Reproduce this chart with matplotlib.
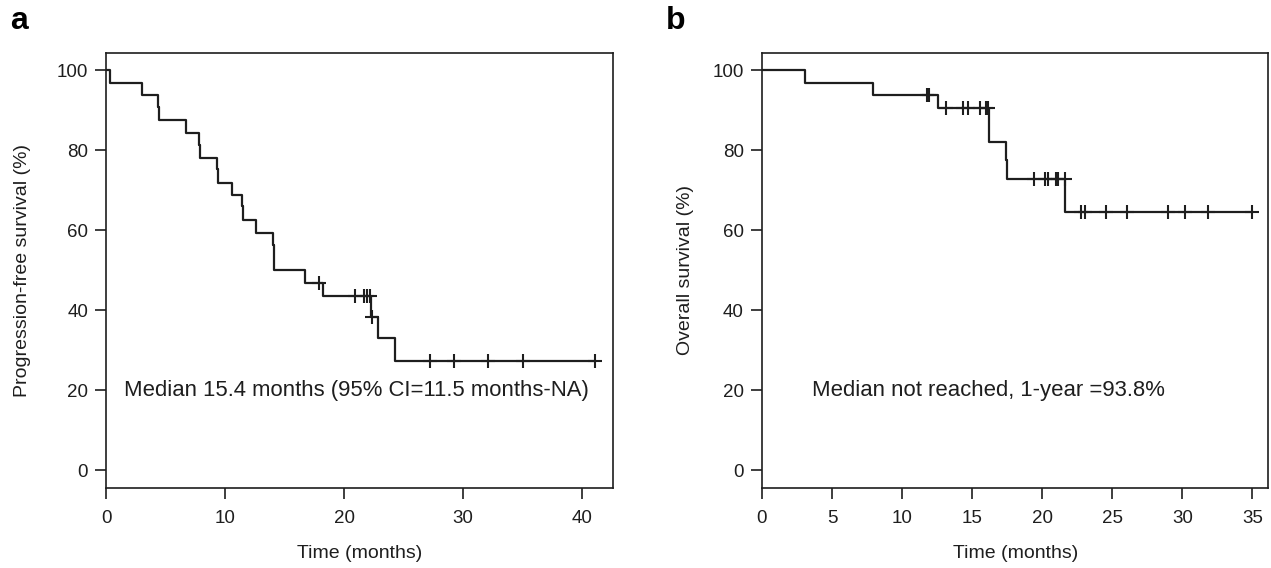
import numpy as np
import matplotlib
matplotlib.use("Agg")
import matplotlib.pyplot as plt

plt.rcParams['font.family'] = ['Liberation Sans', 'DejaVu Sans']

# Panel a: progression-free survival (step times in months, survival %)
pfs_time = [0, 0.34, 2.98, 4.33, 4.46, 6.73, 7.8, 7.9, 9.29, 9.37, 10.6,
            11.39, 11.52, 12.6, 14.06, 14.15, 16.73, 18.24, 22.23, 22.87, 24.27]
pfs_surv = [100, 96.9, 93.8, 90.8, 87.5, 84.4, 81.4, 78.1, 75.3, 71.9, 68.8,
            66.0, 62.5, 59.4, 56.4, 50.0, 46.9, 43.6, 38.4, 33.1, 27.4]
pfs_censor = [17.9, 20.93, 21.69, 21.94, 22.17, 22.31, 27.21, 29.23, 32.14, 35.05, 41.13]
pfs_end = 41.13

# Panel b: overall survival
os_time = [0, 3.1, 7.89, 12.53, 16.2, 17.39, 17.51, 21.66]
os_surv = [100, 96.9, 93.8, 90.6, 82.1, 77.6, 72.8, 64.7]
os_censor = [11.77, 11.94, 13.17, 14.32, 14.72, 15.58, 15.96, 16.15,
             19.44, 20.18, 20.39, 21.02, 21.11, 21.62,
             22.78, 23.09, 24.59, 26.07, 28.95, 30.19, 31.86, 35.0]
os_end = 35.0

pfs_text = "Median 15.4 months (95% CI=11.5 months-NA)"
os_text = "Median not reached, 1-year =93.8%"

col = '#1e1e1e'


def step_level(times, surv, t):
    i = np.searchsorted(times, t, side='right') - 1
    return np.array(surv)[i]


def km_panel(ax, times, surv, censor, end, xmax, xticks, ylabel, note, note_x):
    tt = list(times) + [end]
    ss = list(surv) + [surv[-1]]
    ax.step(tt, ss, where='post', color=col, lw=1.6)
    ax.plot(censor, step_level(times, surv, censor), linestyle='none',
            marker='+', markersize=10, markeredgewidth=1.5, color=col)
    ax.set_xlim(0, xmax)
    ax.set_ylim(-4.4, 104.4)
    ax.set_xticks(xticks)
    ax.set_yticks([0, 20, 40, 60, 80, 100])
    ax.tick_params(direction='out', length=8, width=1.2, labelsize=13.5,
                   colors=col, pad=5)
    ax.tick_params(axis='x', pad=8)
    for s in ax.spines.values():
        s.set_linewidth(1.2)
        s.set_color(col)
    ax.set_xlabel('Time (months)', fontsize=14, color=col, labelpad=13)
    ax.set_ylabel(ylabel, fontsize=14, color=col)
    ax.text(note_x, 20, note, fontsize=15.9, color=col, va='center', ha='left')


fig = plt.figure(figsize=(12.71, 5.68), dpi=100)
ax1 = fig.add_axes([0.0836, 0.1408, 0.3985, 0.7664])
ax2 = fig.add_axes([0.5995, 0.1408, 0.3985, 0.7664])

km_panel(ax1, pfs_time, pfs_surv, pfs_censor, pfs_end, 42.6, range(0, 41, 10),
         'Progression-free survival (%)', pfs_text, 1.5)
km_panel(ax2, os_time, os_surv, os_censor, os_end, 36.15, range(0, 36, 5),
         'Overall survival (%)', os_text, 3.6)

ax1.yaxis.set_label_coords(-0.148, 0.5)
ax2.yaxis.set_label_coords(-0.134, 0.5)

fig.text(0.008, 0.963, 'a', fontsize=23, fontweight='bold', va='center', ha='left')
fig.text(0.524, 0.963, 'b', fontsize=23, fontweight='bold', va='center', ha='left')

fig.savefig('out.png', dpi=100)
